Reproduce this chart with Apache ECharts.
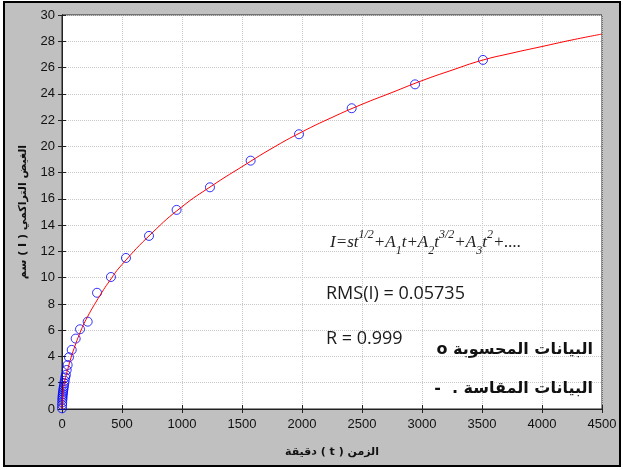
<!DOCTYPE html>
<html>
<head>
<meta charset="utf-8">
<script src="https://cdn.jsdelivr.net/npm/echarts@6/dist/echarts.min.js"></script>
<style>
	html, body { margin: 0; padding: 0; background: #fff; }
	#chart { width: 623px; height: 470px; }
</style>
</head>
<body>
<div id="chart"></div>
<script>
	// measured points (blue circles)
	var measT = [0, 1, 2, 3, 4, 5, 7, 9, 11, 13, 16, 19, 23, 27, 32, 39, 47, 58, 81, 114, 150, 214, 292, 408, 533, 725, 955, 1233, 1572, 1975, 2414, 2942, 3508];
	var measI = [0.05, 0.3, 0.5, 0.7, 0.85, 1.0, 1.15, 1.3, 1.45, 1.6, 1.75, 1.95, 2.15, 2.4, 2.6, 2.97, 3.35, 3.94, 4.5, 5.36, 6.07, 6.65, 8.85, 10.05, 11.5, 13.18, 15.16, 16.88, 18.91, 20.92, 22.9, 24.72, 26.58];
	// fitted curve (red line)
	var fitT = [0, 5, 10, 20, 30, 50, 75, 100, 150, 200, 300, 400, 500, 750, 1000, 1250, 1500, 1750, 2000, 2250, 2500, 2750, 3000, 3250, 3500, 3750, 4000, 4250, 4500];
	var fitI = [0, 1.0, 1.4, 2.0, 2.4, 3.1, 3.9, 4.6, 5.8, 6.8, 8.4, 9.8, 11.0, 13.4, 15.4, 17.0, 18.45, 19.85, 21.1, 22.2, 23.2, 24.1, 25.0, 25.8, 26.55, 27.1, 27.6, 28.1, 28.55];

	var xName = 'دقيقة ( t ) الزمن';
	var yName = 'سم ( I ) الغيض التراكمي';
	var legendCalc = 'o البيانات المحسوبة';
	var legendMeas = '-  . البيانات المقاسة';

	var gridColor = '#c8c8c8';
	var labelFont = {color: '#111', fontSize: 13, fontFamily: 'Liberation Sans'};

	var measData = measT.map(function (t, i) { return [t, measI[i]]; });
	var fitData = fitT.map(function (t, i) { return [t, fitI[i]]; });

	var option = {
		backgroundColor: '#fff',
		animation: false,
		grid: {
			left: 62,
			right: 21,
			top: 15,
			bottom: 61,
			show: true,
			backgroundColor: '#fff',
			borderColor: '#222',
			borderWidth: 1
		},
		graphic: [
			{
				type: 'rect',
				z: -100,
				shape: {x: 4, y: 2, width: 616, height: 464},
				style: {fill: '#c0c0c0', stroke: '#000', lineWidth: 2}
			},
			{
				type: 'text',
				left: 330,
				top: 229,
				z: 100,
				style: {
					text: '{m|I=st}{p|1/2}{m|+A}{b|1}{m|t+A}{b|2}{m|t}{p|3/2}{m|+A}{b|3}{m|t}{p|2}{m|+....}',
					rich: {
						m: {fontFamily: 'Liberation Serif', fontStyle: 'italic', fontSize: 17, fill: '#222', verticalAlign: 'middle', lineHeight: 28},
						p: {fontFamily: 'Liberation Serif', fontStyle: 'italic', fontSize: 12, fill: '#222', verticalAlign: 'top', lineHeight: 28},
						b: {fontFamily: 'Liberation Serif', fontStyle: 'italic', fontSize: 12, fill: '#222', verticalAlign: 'bottom', lineHeight: 28}
					}
				}
			},
			{
				type: 'text',
				left: 326,
				top: 285,
				z: 100,
				style: {text: 'RMS(I) = 0.05735', fontFamily: 'Open Sans', fontSize: 18, fill: '#1a1a1a'}
			},
			{
				type: 'text',
				left: 326,
				top: 330,
				z: 100,
				style: {text: 'R = 0.999', fontFamily: 'Open Sans', fontSize: 18, fill: '#1a1a1a'}
			},
			{
				type: 'text',
				right: 30,
				top: 342,
				z: 100,
				style: {text: legendCalc, fontFamily: 'DejaVu Sans', fontWeight: 'bold', fontSize: 16, fill: '#111'}
			},
			{
				type: 'text',
				right: 30,
				top: 381,
				z: 100,
				style: {text: legendMeas, fontFamily: 'DejaVu Sans', fontWeight: 'bold', fontSize: 16, fill: '#111'}
			}
		],
		xAxis: [{
			type: 'value',
			min: 0,
			max: 4500,
			interval: 500,
			name: xName,
			nameLocation: 'middle',
			nameGap: 38,
			nameTextStyle: {color: '#111', fontSize: 11, fontWeight: 'bold', fontFamily: 'DejaVu Sans'},
			axisLine: {show: true, lineStyle: {color: '#222'}},
			axisTick: {show: true, inside: true, length: 4, lineStyle: {color: '#222'}},
			axisLabel: Object.assign({margin: 9, formatter: function (v) { return String(v); }}, labelFont),
			splitLine: {show: true, lineStyle: {color: gridColor, type: 'dotted'}}
		}, {
			type: 'value',
			position: 'top',
			min: 0,
			max: 4500,
			interval: 500,
			axisLine: {show: true, lineStyle: {color: '#222'}},
			axisTick: {show: true, inside: true, length: 4, lineStyle: {color: '#222'}},
			axisLabel: {show: false},
			splitLine: {show: false}
		}],
		yAxis: [{
			type: 'value',
			min: 0,
			max: 30,
			interval: 2,
			name: yName,
			nameLocation: 'middle',
			nameGap: 33,
			nameTextStyle: {color: '#111', fontSize: 11, fontWeight: 'bold', fontFamily: 'DejaVu Sans'},
			axisLine: {show: true, lineStyle: {color: '#222'}},
			axisTick: {show: true, inside: true, length: 4, lineStyle: {color: '#222'}},
			axisLabel: Object.assign({margin: 7}, labelFont),
			splitLine: {show: true, lineStyle: {color: gridColor, type: 'dotted'}}
		}, {
			type: 'value',
			position: 'right',
			min: 0,
			max: 30,
			interval: 2,
			axisLine: {show: true, lineStyle: {color: '#222'}},
			axisTick: {show: true, inside: true, length: 4, lineStyle: {color: '#222'}},
			axisLabel: {show: false},
			splitLine: {show: false}
		}],
		series: [{
			type: 'line',
			data: fitData,
			smooth: true,
			showSymbol: false,
			lineStyle: {color: '#ff0000', width: 1},
			z: 3
		}, {
			type: 'scatter',
			data: measData,
			symbol: 'circle',
			symbolSize: 9,
			itemStyle: {color: 'rgba(0,0,0,0)', borderColor: '#0000ff', borderWidth: 1},
			z: 2
		}]
	};

	var myChart = echarts.init(document.getElementById('chart'));
	myChart.setOption(option);
</script>
</body>
</html>
